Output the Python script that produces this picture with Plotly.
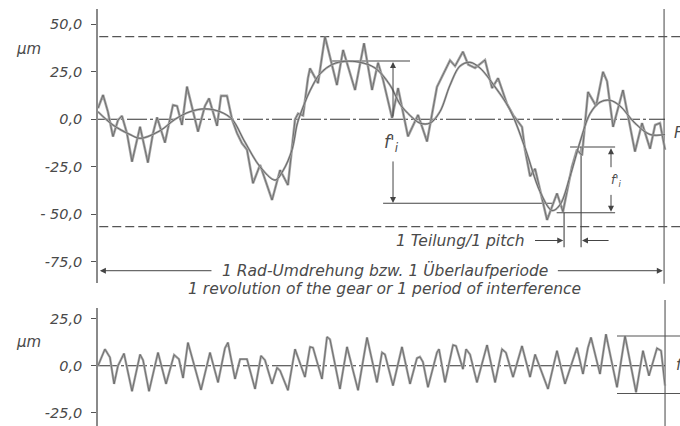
import plotly.graph_objects as go

# ---------------- data (x in degrees of gear rotation, y in µm) ----------------
top_x = [0, 3.2, 6.3, 9.5, 12.7, 15.2, 18.4, 21.6, 26.7, 31.7, 34.9, 37.5, 42.5, 47.6, 50.2,
         53.3, 56.5, 63.5, 67.9, 70.5, 75.6, 78.1, 81.9, 85.1, 88.3, 91.4, 94.6, 98.4, 102.9,
         110.5, 115.6, 120.6, 125.1, 127, 130.2, 132, 133.3, 134.6, 139.7, 144.1, 151.7, 155.6, 163.2,
         168.9, 174, 177.8, 181, 186.7, 190.5, 196.8, 203.2, 208.9, 215.2, 223.5, 226.7, 231.7,
         235, 239.4, 245.7, 250.2, 254, 259.7, 263.5, 269.2, 271.1, 274.3, 277.5, 280.6, 285.1,
         291.4, 295.2, 300.9, 304.1, 307.3, 311.1, 316.2, 320.6, 323.2, 327, 333.3, 340.9,
         345.4, 350.5, 353.7, 356.8, 360]
top_y = [5.8, 12.8, 4, -9.1, -0.4, 1.8, -7.4, -22.3, -3.9, -22.8, -7.4, 1, -12.3, 7.5, 7,
         -3, 17.2, -6.5, 7, 11, -3.5, 12.3, 12.3, 0, -7.4, -12.6, -16, -33.7, -24,
         -42.5, -26.7, -34.6, 0, 3, 2, 14, 21.6, 26.8, 19, 43.5, 18, 36.5, 15.4,
         40, 15.4, 29.8, 20.7, 0.7, 16.4, -9, 2.3, -11.7, 17, 31, 28, 35.6,
         28.8, 27, 31.2, 16.4, 21.7, 8, 2.3, -4, -16, -30, -26, -37, -53,
         -39, -48.6, -25, -16, -19, 14.4, 7, 25, 20, -4, 15.4, -17,
         -2, -15.5, -3, -2, -16]

long_x = [0, 9.5, 20.3, 26.7, 39.4, 48.9, 58.4, 67.9, 77.5, 85.1, 93.3, 102.9, 112.4, 117.5,
          123.2, 126.3, 128.2, 134.6, 141, 149, 156.8, 166.3, 175.9, 185.4, 191.7, 198.1, 204.4, 210.8,
          217.1, 223.5, 229.8, 236.2, 242.5, 252.1, 261.6, 271.1, 280.6, 288.3, 293.3, 299.7,
          306, 312.4, 318.7, 325.1, 331.4, 340.9, 350.5, 360]
long_y = [4, -3, -8, -10, -6, 0, 4, 5.5, 4, 0, -12, -25, -32, -27,
          -16, -3, 2, 15, 24, 29, 30.5, 30, 27, 18, 8, 2, -2, -2,
          4, 18, 28, 30, 27, 17, 5, -15, -38, -48, -45, -30,
          -12, 3, 9, 10, 7, -2, -8, -8]

short_x = [0, 4.4, 7.6, 10.2, 12.7, 16.5, 21.6, 26.7, 28.6, 32.4, 38.1, 43.2, 48.3, 51.4, 54,
           57.1, 65.4, 71.1, 76.2, 80.6, 82.5, 87, 90.2, 94.6, 99.7, 103.5, 106, 110.5, 113.7,
           115.6, 120.6, 125.1, 131.4, 134.6, 136.5, 142.2, 145.4, 147.3, 153.6, 158.1, 165.1,
           170.8, 177.1, 180.3, 182.2, 187.3, 193, 198.1, 202.5, 204.4, 206.3, 209.5, 215.2,
           216.5, 220.3, 225.4, 227.3, 231.7, 233.7, 236.2, 240.6, 247, 252.1, 256.5, 259,
           263.5, 269.2, 274.3, 277.5, 285.7, 291.4, 296.5, 304.1, 307.9, 311.1, 313, 318.7,
           322.5, 329.5, 334.6, 341.6, 346, 349.8, 354.9, 357.5, 360]
short_y = [0, 8.8, 4.4, -9.6, 0, 6.5, -13.5, 6, 3, -13.5, 7, -9.6, 5.8, 3.5, -6.5,
           12.3, -12.8, 7, -8.8, 9.3, 12.3, -7, 3.5, 3.5, -12.3, 5.3, 3, -9.6, -1,
           -2.6, -13, 8.8, -6, 10, 9.6, -7, 15.3, 14, -12.3, 10, -13,
           15, -8.8, 7, 6, -10.5, 10, -9.6, 4, 4.7, 2, -11.4, 7,
           8.8, -8.8, 11, 10.5, -1.8, 8.8, 6, -8.8, 11, -8.8, 8.8, 7,
           -6, 10.5, -6, 6, -12.3, 8, -9.6, 9.6, -4.4, 9.6, 15, -4.4,
           16.7, -11.4, 15.8, -14, 8, -5.3, 9.3, 8, -10.5]

top_ticks = [50, 25, 0, -25, -50, -75]
top_ticktext = ["50,0", "25,0", "0,0", "-25,0", "- 50,0", "-75,0"]
bot_ticks = [25, 0, -25]
bot_ticktext = ["25,0", "0,0", "-25,0"]

# ---------------- figure ----------------
FONT = "DejaVu Sans"
TXT = "#4a4a4a"
X0 = 98 / 680
XR = [0, 369.5]
TOP_DOM = [0.3357, 0.9789]
TOP_RANGE = [-86.16, 58.05]
BOT_DOM = [0.0, 0.277]
BOT_RANGE = [-31.9, 30.6]
GRAY = "#a8a8a8"
DARK = "#4a4a4a"

fig = go.Figure()

fig.add_trace(go.Scatter(x=top_x, y=top_y, mode="lines", line=dict(color=GRAY, width=2.6),
                         xaxis="x", yaxis="y", hoverinfo="skip"))
fig.add_trace(go.Scatter(x=top_x, y=top_y, mode="lines", line=dict(color=DARK, width=0.6),
                         xaxis="x", yaxis="y", hoverinfo="skip"))
fig.add_trace(go.Scatter(x=long_x, y=long_y, mode="lines", line=dict(color=GRAY, width=2.2, shape="spline"),
                         xaxis="x", yaxis="y", hoverinfo="skip"))
fig.add_trace(go.Scatter(x=long_x, y=long_y, mode="lines", line=dict(color=DARK, width=0.7, shape="spline"),
                         xaxis="x", yaxis="y", hoverinfo="skip"))
fig.add_trace(go.Scatter(x=short_x, y=short_y, mode="lines", line=dict(color=GRAY, width=2.4),
                         xaxis="x2", yaxis="y2", hoverinfo="skip"))
fig.add_trace(go.Scatter(x=short_x, y=short_y, mode="lines", line=dict(color=DARK, width=0.6),
                         xaxis="x2", yaxis="y2", hoverinfo="skip"))

tickfont = dict(family=FONT, size=14.5, color=TXT, style="italic")
yax_common = dict(showgrid=False, zeroline=False, showline=True, linecolor="#8a8a8a", linewidth=1.6,
                  ticks="outside", ticklen=5, tickwidth=1.3, tickcolor="#555",
                  tickfont=tickfont, ticklabelstandoff=6, fixedrange=True)

fig.update_layout(
    width=680, height=426, margin=dict(l=0, r=0, t=0, b=0),
    paper_bgcolor="white", plot_bgcolor="white", showlegend=False,
    xaxis=dict(domain=[X0, 1], range=XR, visible=False, anchor="y"),
    xaxis2=dict(domain=[X0, 1], range=XR, visible=False, anchor="y2"),
    yaxis=dict(domain=TOP_DOM, range=TOP_RANGE, anchor="x", tickvals=top_ticks, ticktext=top_ticktext, **yax_common),
    yaxis2=dict(domain=BOT_DOM, range=BOT_RANGE, anchor="x2", tickvals=bot_ticks, ticktext=bot_ticktext, **yax_common),
    yaxis3=dict(overlaying="y", anchor="x", range=TOP_RANGE, tickvals=top_ticks, showticklabels=False,
                ticks="inside", ticklen=5, tickwidth=1.3, tickcolor="#555", showgrid=False, zeroline=False, showline=False),
    yaxis4=dict(overlaying="y2", anchor="x2", range=BOT_RANGE, tickvals=bot_ticks, showticklabels=False,
                ticks="inside", ticklen=5, tickwidth=1.3, tickcolor="#555", showgrid=False, zeroline=False, showline=False),
)

shapes = []
def hline(x0, x1, y, xr="x", yr="y", color="#333", width=1.0, dash="solid"):
    shapes.append(dict(type="line", xref=xr, yref=yr, x0=x0, x1=x1, y0=y, y1=y,
                       line=dict(color=color, width=width, dash=dash), layer="below"))
def vline(x, y0, y1, xr="x", yr="y", color="#333", width=1.0, dash="solid"):
    shapes.append(dict(type="line", xref=xr, yref=yr, x0=x, x1=x, y0=y0, y1=y1,
                       line=dict(color=color, width=width, dash=dash), layer="below"))

hline(0.8, 369.5, 43.5, color="#555", width=1.1, dash="9px,4px")
hline(0.8, 369.5, -56.5, color="#555", width=1.1, dash="9px,4px")
hline(0, 360, 0, color="#333", width=1.1, dash="20px,3px,3px,3px")
vline(359.4, TOP_DOM[0] - 0.002, TOP_DOM[1], yr="paper", color="#8a8a8a", width=1.6)
vline(360, 0, 0.296, yr="paper", xr="x2", color="#8a8a8a", width=1.6)
hline(0, 360, 0, xr="x2", yr="y2", color="#333", width=1.1, dash="20px,3px,3px,3px")
hline(148.6, 198.1, 30.7, color="#444", width=1.1)
hline(181, 288.9, -44.2, color="#444", width=1.1)
hline(299.7, 328.3, -14.6, color="#444", width=1.1)
hline(291.2, 328.3, -49.2, color="#444", width=1.1)
vline(306.7, -14.6, -67.4, color="#444", width=1.1)
vline(295.9, -49.2, -67.4, color="#444", width=1.1)
hline(329.5, 369.5, 15.8, xr="x2", yr="y2", color="#555", width=1.1)
hline(329.5, 369.5, -14.7, xr="x2", yr="y2", color="#555", width=1.1)
fig.update_layout(shapes=shapes)

ann = []
def arrow(xt, yt, xa, ya, xr="x", yr="y"):
    ann.append(dict(x=xt, y=yt, ax=xa, ay=ya, xref=xr, yref=yr, axref=xr, ayref=yr, text="",
                    showarrow=True, arrowhead=2, arrowsize=1.2, arrowwidth=1, arrowcolor="#444"))
def text(x, y, s, size=15.5, xr="x", yr="y", xanchor="center", yanchor="middle", bg=None):
    d = dict(x=x, y=y, xref=xr, yref=yr, text=s, showarrow=False, xanchor=xanchor, yanchor=yanchor,
             font=dict(family=FONT, size=size, color=TXT, style="italic"))
    if bg:
        d["bgcolor"] = bg
    ann.append(d)

arrow(187.3, 30.2, 187.3, 0.7)
arrow(187.3, -44, 187.3, -21.4)
text(186.5, -12.5, "f'<sub>i</sub>", size=17)
arrow(325.7, -15.2, 325.7, -26)
arrow(325.7, -48.6, 325.7, -39)
text(329, -32.5, "f'<sub>i</sub>", size=12)
text(272.5, -63.8, "1 Teilung/1 pitch", size=15.5, xanchor="right")
arrow(295.4, -63.8, 276.5, -63.8)
arrow(307.3, -63.8, 325.1, -63.8)
arrow(1.2, -79.7, 73, -79.7)
arrow(358.6, -79.7, 291, -79.7)
text(181.9, 1 - 270.5 / 426, "1 Rad-Umdrehung bzw. 1 Überlaufperiode", size=15.5, yr="paper")
text(181.9, 1 - 288.5 / 426, "1 revolution of the gear or 1 period of interference", size=15.5, yr="paper")
ann.append(dict(x=28 / 680, y=1 - 49 / 426, xref="paper", yref="paper", text="µm", showarrow=False,
                xanchor="center", yanchor="middle",
                font=dict(family=FONT, size=15, color=TXT, style="italic")))
ann.append(dict(x=28 / 680, y=1 - 342 / 426, xref="paper", yref="paper", text="µm", showarrow=False,
                xanchor="center", yanchor="middle",
                font=dict(family=FONT, size=15, color=TXT, style="italic")))
text(364.5, -7.5, "F'<sub>i</sub>", size=15, xanchor="left")
text(365.5, 0, "f''<sub>i</sub>", size=15, xr="x2", yr="y2", xanchor="left")

fig.update_layout(annotations=ann)
fig.write_html("out.html", config={"displayModeBar": False},
               post_script="document.body.style.margin='0';document.body.style.overflow='hidden';")
